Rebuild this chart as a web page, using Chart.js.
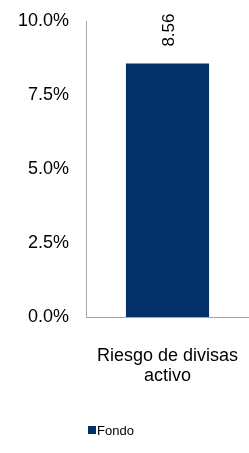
<!DOCTYPE html>
<html>
<head>
<meta charset="utf-8">
<script src="https://cdn.jsdelivr.net/npm/chart.js@4/dist/chart.umd.min.js"></script>
<style>
  html, body { margin: 0; padding: 0; background: #fff; }
  #grafico { display: block; }
</style>
</head>
<body>
<canvas id="grafico" width="249" height="453"></canvas>
<script>
// Datos del gráfico
const categorias = [['Riesgo de divisas', 'activo']];
const serieNombre = 'Fondo';
const valoresFondo = [8.56];
const etiquetasValor = ['8.56'];

const azul = '#033068';
const fuente = '"Liberation Sans", Arial, sans-serif';

// Etiqueta de valor girada encima de la barra + leyenda simple abajo
const extras = {
  id: 'extras',
  afterDatasetsDraw(chart) {
    const ctx = chart.ctx;
    const meta = chart.getDatasetMeta(0);
    meta.data.forEach((bar, i) => {
      ctx.save();
      ctx.translate(bar.x + 2, bar.y - 17);
      ctx.rotate(-Math.PI / 2);
      ctx.font = '17px ' + fuente;
      ctx.fillStyle = '#000';
      ctx.textAlign = 'left';
      ctx.textBaseline = 'middle';
      ctx.fillText(etiquetasValor[i], 0, 0);
      ctx.restore();
    });
  },
  afterDraw(chart) {
    // leyenda: cuadrado + nombre de la serie
    const ctx = chart.ctx;
    const y = 430;
    ctx.save();
    ctx.fillStyle = chart.data.datasets[0].backgroundColor;
    ctx.fillRect(88, y - 4, 8, 8);
    ctx.font = '13px ' + fuente;
    ctx.fillStyle = '#000';
    ctx.textAlign = 'left';
    ctx.textBaseline = 'middle';
    ctx.fillText(chart.data.datasets[0].label, 97, y + 1);
    ctx.restore();
  }
};

const ctx = document.getElementById('grafico').getContext('2d');

new Chart(ctx, {
  type: 'bar',
  data: {
    labels: categorias,
    datasets: [{
      label: serieNombre,
      data: valoresFondo,
      backgroundColor: azul,
      borderWidth: 0,
      barPercentage: 0.51,
      categoryPercentage: 1
    }]
  },
  options: {
    responsive: false,
    animation: false,
    devicePixelRatio: 1,
    layout: { padding: { top: 21, right: 0, bottom: 38, left: 0 } },
    scales: {
      y: {
        min: 0,
        max: 10,
        afterFit(scale) {
          scale.width = 86;
          scale.paddingTop = 0;
          scale.paddingBottom = 0;
        },
        ticks: {
          stepSize: 2.5,
          padding: 17,
          color: '#000',
          font: { family: fuente, size: 18 },
          callback: v => v.toFixed(1) + '%'
        },
        grid: { display: false, drawTicks: false },
        border: { display: true, color: '#a6a6a6', width: 1 }
      },
      x: {
        afterFit(scale) {
          scale.height = 98;
          scale.paddingLeft = 0;
          scale.paddingRight = 0;
        },
        ticks: {
          padding: 29,
          color: '#000',
          maxRotation: 0,
          font: { family: fuente, size: 18, lineHeight: 1.1 }
        },
        grid: { display: false, drawTicks: false },
        border: { display: true, color: '#a6a6a6', width: 1 }
      }
    },
    plugins: {
      legend: { display: false },
      tooltip: { enabled: false }
    }
  },
  plugins: [extras]
});
</script>
</body>
</html>
